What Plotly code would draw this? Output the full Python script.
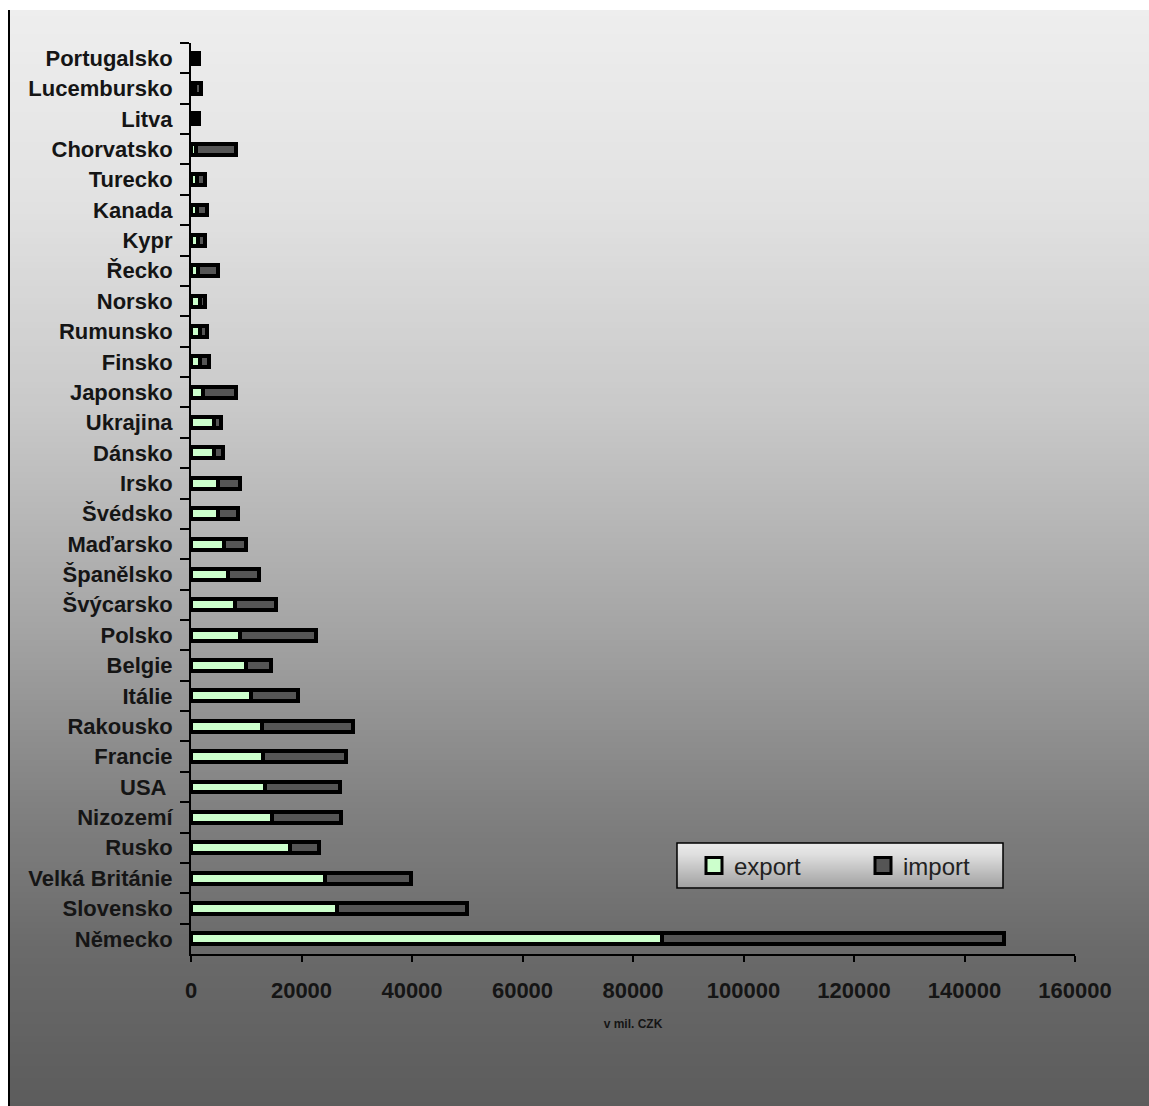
import plotly.graph_objects as go

# Trade by partner country, in millions of CZK (listed top to bottom)
countries = ["Portugalsko", "Lucembursko", "Litva", "Chorvatsko", "Turecko", "Kanada",
             "Kypr", "Řecko", "Norsko", "Rumunsko", "Finsko", "Japonsko", "Ukrajina",
             "Dánsko", "Irsko", "Švédsko", "Maďarsko", "Španělsko", "Švýcarsko",
             "Polsko", "Belgie", "Itálie", "Rakousko", "Francie", "USA\u00a0",
             "Nizozemí", "Rusko", "Velká Británie", "Slovensko", "Německo"]
export_vals = [800, 700, 700, 900, 1000, 1000, 1200, 1300, 1600, 1700, 1700, 2100,
               4100, 4100, 4900, 4900, 6000, 6700, 7900, 8900, 10000, 10800, 12900,
               13100, 13400, 14700, 17900, 24200, 26500, 85300]
import_vals = [700, 1100, 700, 7200, 1500, 1900, 1300, 3500, 900, 1200, 1500, 6000,
               1300, 1700, 4000, 3600, 4000, 5600, 7400, 13800, 4500, 8500, 16400,
               14900, 13500, 12400, 5200, 15700, 23500, 61900]
x_ticks = [0, 20000, 40000, 60000, 80000, 100000, 120000, 140000, 160000]

EXPORT_COLOR = "#ccffcc"
IMPORT_COLOR = "#555555"
FONT = "Liberation Sans, Arial, sans-serif"

W, H = 1149, 1106
PL, PR, PT, PB = 191, 1075, 43, 954   # plot area in pixels


def px_x(p):
    return (p - PL) / (PR - PL)


def px_y(p):
    return (PB - p) / (PB - PT)


def lerp_gray(stops, v):
    for (a, ca), (b, cb) in zip(stops, stops[1:]):
        if a <= v <= b:
            t = (v - a) / (b - a)
            g = round(ca + (cb - ca) * t)
            return f"rgb({g},{g},{g})"
    g = stops[-1][1] if v > stops[-1][0] else stops[0][1]
    return f"rgb({g},{g},{g})"


shapes = []
# vertical background gradient
bg_stops = [(10, 238), (200, 226), (400, 202), (620, 166), (800, 130), (950, 106), (1106, 92)]
step = 6
y = 10
while y < H:
    shapes.append(dict(type="rect", xref="paper", yref="paper", layer="below",
                       x0=px_x(10), x1=px_x(W + 2), y0=px_y(min(y + step + 1, H + 2)), y1=px_y(y),
                       fillcolor=lerp_gray(bg_stops, y + step / 2), line=dict(width=0)))
    y += step
# left frame line
shapes.append(dict(type="line", xref="paper", yref="paper", layer="above",
                   x0=px_x(9), x1=px_x(9), y0=px_y(10), y1=px_y(H + 2),
                   line=dict(color="black", width=2)))

# legend box with its own soft gradient
LX0, LX1, LY0, LY1 = 677, 1003, 843, 888
lg_stops = [(LY0, 236), (LY0 + 12, 222), (LY1, 160)]
for yy in range(LY0, LY1):
    shapes.append(dict(type="rect", xref="paper", yref="paper", layer="above",
                       x0=px_x(LX0), x1=px_x(LX1), y0=px_y(yy + 1.5), y1=px_y(yy),
                       fillcolor=lerp_gray(lg_stops, yy + 0.5), line=dict(width=0)))
shapes.append(dict(type="rect", xref="paper", yref="paper", layer="above",
                   x0=px_x(LX0), x1=px_x(LX1), y0=px_y(LY1), y1=px_y(LY0),
                   fillcolor="rgba(0,0,0,0)", line=dict(color="black", width=1.5)))

fig = go.Figure()
fig.add_trace(go.Bar(y=countries, x=export_vals, orientation="h", name="export",
                     showlegend=False,
                     marker=dict(color=EXPORT_COLOR, line=dict(color="black", width=4))))
fig.add_trace(go.Bar(y=countries, x=import_vals, orientation="h", name="import",
                     showlegend=False,
                     marker=dict(color=IMPORT_COLOR, line=dict(color="black", width=4))))
# legend keys drawn as larger squares
for name, color in [("export", EXPORT_COLOR), ("import", IMPORT_COLOR)]:
    fig.add_trace(go.Scatter(x=[None], y=[None], mode="markers", name=name,
                             marker=dict(symbol="square", size=16, color=color,
                                         line=dict(color="black", width=3))))

fig.update_layout(
    width=W, height=H,
    margin=dict(l=PL, r=W - PR, t=PT, b=H - PB, pad=0),
    paper_bgcolor="white", plot_bgcolor="rgba(0,0,0,0)",
    barmode="stack", bargap=0.64,
    shapes=shapes,
    showlegend=True,
    legend=dict(orientation="h", traceorder="normal", x=px_x(694), y=px_y(866),
                xanchor="left", yanchor="middle", itemwidth=30,
                bgcolor="rgba(0,0,0,0)", borderwidth=0, entrywidth=124,
                font=dict(family=FONT, size=24, color="#222222")),
    font=dict(family=FONT, color="#151515"),
    xaxis=dict(range=[0, 160000], tickvals=x_ticks, ticktext=[str(v) for v in x_ticks],
               showgrid=False, zeroline=False, showline=True, linecolor="black", linewidth=1.5,
               ticks="outside", ticklen=6, tickwidth=1.5, tickcolor="black",
               ticklabelstandoff=10,
               tickfont=dict(family=FONT, size=22, color="#151515", weight="bold"),
               title=dict(text="<b>v mil. CZK</b>", standoff=17,
                          font=dict(family=FONT, size=12, color="#151515"))),
    yaxis=dict(autorange="reversed", type="category", showgrid=False, zeroline=False,
               showline=True, linecolor="black", linewidth=2,
               ticks="outside", tickson="boundaries", ticklen=9, tickwidth=2, tickcolor="black",
               ticklabelstandoff=12,
               tickfont=dict(family=FONT, size=22, color="#151515", weight="bold")),
)

fig.write_html("out.html")
